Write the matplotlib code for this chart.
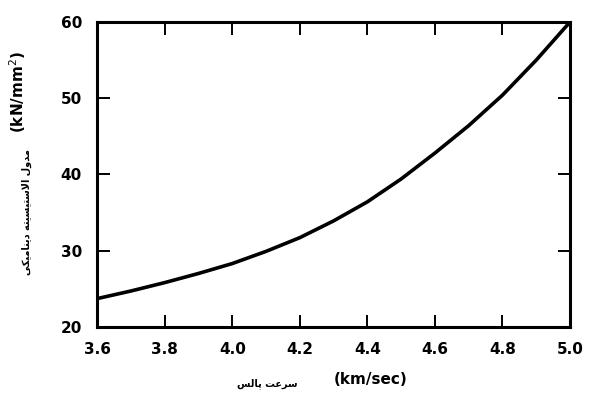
import numpy as np
import matplotlib.pyplot as plt

# داده ها (خوانده شده از تصویر)
pulse_speed = [3.6, 3.7, 3.8, 3.9, 4.0, 4.1, 4.2, 4.3, 4.4, 4.5, 4.6, 4.7, 4.8, 4.9, 5.0]
modulus = [23.7, 24.7, 25.8, 27.0, 28.3, 29.9, 31.7, 33.9, 36.4, 39.4, 42.8, 46.4, 50.4, 55.0, 60.0]
x_ticks = [3.6, 3.8, 4.0, 4.2, 4.4, 4.6, 4.8, 5.0]
y_ticks = [20, 30, 40, 50, 60]
x_label_fa = 'سرعت پالس'
x_label_unit = '(km/sec)'
y_label_fa = 'مدول الاستیسیته دینامیکی'
y_label_unit = '(kN/mm$^2$)'

# matplotlib has no arabic shaping -> simple shaper with presentation forms
FORMS = {  # iso, fin, ini, med
    'ا': ('\uFE8D', '\uFE8E', None, None),
    'د': ('\uFEA9', '\uFEAA', None, None),
    'ر': ('\uFEAD', '\uFEAE', None, None),
    'و': ('\uFEED', '\uFEEE', None, None),
    'ت': ('\uFE95', '\uFE96', '\uFE97', '\uFE98'),
    'پ': ('\uFB56', '\uFB57', '\uFB58', '\uFB59'),
    'س': ('\uFEB1', '\uFEB2', '\uFEB3', '\uFEB4'),
    'ع': ('\uFEC9', '\uFECA', '\uFECB', '\uFECC'),
    'ک': ('\uFB8E', '\uFB8F', '\uFB90', '\uFB91'),
    'ل': ('\uFEDD', '\uFEDE', '\uFEDF', '\uFEE0'),
    'م': ('\uFEE1', '\uFEE2', '\uFEE3', '\uFEE4'),
    'ن': ('\uFEE5', '\uFEE6', '\uFEE7', '\uFEE8'),
    'ه': ('\uFEE9', '\uFEEA', '\uFEEB', '\uFEEC'),
    'ی': ('\uFBFC', '\uFBFD', '\uFBFE', '\uFBFF'),
}

def shape(txt):
    out = []
    n = len(txt)
    i = 0
    while i < n:
        c = txt[i]
        if c not in FORMS:
            out.append(c)
            i += 1
            continue
        prev = txt[i-1] if i > 0 else ' '
        joins_prev = prev in FORMS and FORMS[prev][2] is not None
        # lam-alef ligature
        if c == 'ل' and i + 1 < n and txt[i+1] == 'ا':
            out.append('\uFEFC' if joins_prev else '\uFEFB')
            i += 2
            continue
        nxt = txt[i+1] if i + 1 < n else ' '
        joins_next = FORMS[c][2] is not None and nxt in FORMS
        iso, fin, ini, med = FORMS[c]
        if joins_prev and joins_next:
            out.append(med)
        elif joins_prev:
            out.append(fin)
        elif joins_next:
            out.append(ini)
        else:
            out.append(iso)
        i += 1
    return ''.join(out)[::-1]

plt.rcParams['font.family'] = ['DejaVu Sans']

fig = plt.figure(figsize=(6, 4), dpi=100)
ax = fig.add_axes([0.162, 0.183, 0.788, 0.762])

ax.plot(pulse_speed, modulus, c='black', linewidth=2.6,
        solid_joinstyle='round', solid_capstyle='butt')

ax.set_xlim(3.6, 5.0)
ax.set_ylim(20, 60)
ax.set_xticks(x_ticks)
ax.set_yticks(y_ticks)
ax.set_xticklabels(['%.1f' % v for v in x_ticks])
ax.tick_params(direction='in', length=9, width=1.4, top=True, right=True,
               labelsize=11, pad=11)
for label in ax.get_xticklabels() + ax.get_yticklabels():
    label.set_fontweight('bold')
for sp in ax.spines.values():
    sp.set_linewidth(2.2)

# axis labels
fig.text(0.445, 0.04, shape(x_label_fa), fontsize=7, fontweight='bold',
         ha='center', va='center')
fig.text(0.617, 0.05, x_label_unit, fontsize=11, fontweight='bold',
         ha='center', va='center')
fig.text(0.045, 0.47, shape(y_label_fa), fontsize=7, fontweight='bold',
         rotation=90, ha='center', va='center')
fig.text(0.03, 0.77, y_label_unit, fontsize=11, fontweight='bold',
         rotation=90, ha='center', va='center')

plt.savefig('out.png', dpi=100)
plt.close()
